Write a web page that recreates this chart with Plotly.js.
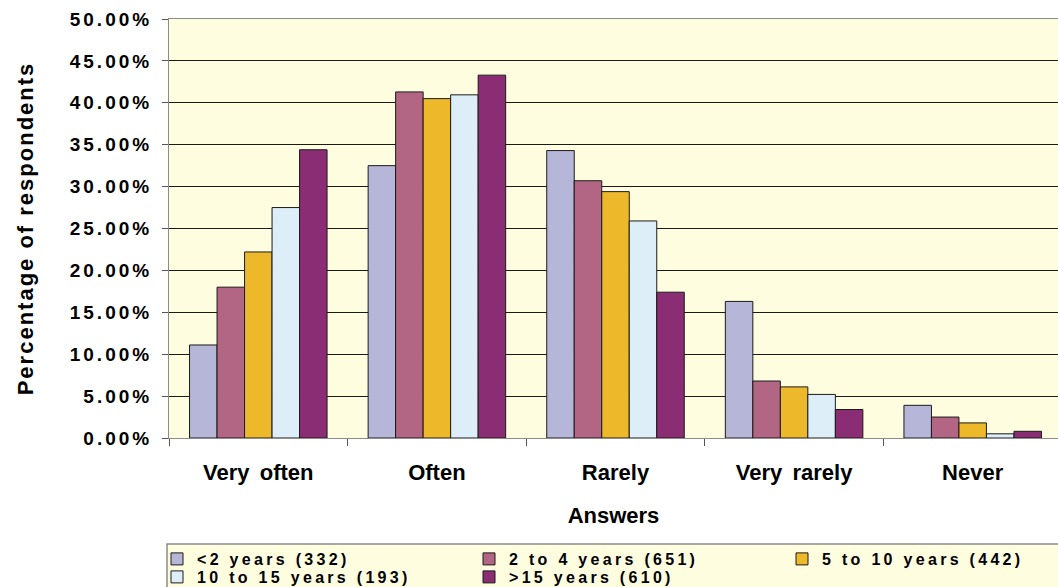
<!DOCTYPE html>
<html>
<head>
<meta charset="utf-8">
<script src="https://cdn.plot.ly/plotly-3.0.1.min.js"></script>
<style>
html, body { margin: 0; padding: 0; background: #fff; }
#chart { width: 1058px; height: 587px; }
.ytick text { letter-spacing: 3px; }
.g-ytitle text { letter-spacing: 2px; }
.xtick text { word-spacing: 4px; }
.legendtext, .legend2text, .legend3text, .legend4text, .legend5text { letter-spacing: 3.3px; }
</style>
</head>
<body>
<div id="chart"></div>
<script>
const categories = ["Very often", "Often", "Rarely", "Very rarely", "Never"];
const seriesNames = ["<2 years (332)", "2 to 4 years (651)", "5 to 10 years (442)", "10 to 15 years (193)", ">15 years (610)"];
const lessThan2 = [11.1, 32.5, 34.3, 16.3, 3.9];
const from2to4 = [18.0, 41.3, 30.7, 6.8, 2.5];
const from5to10 = [22.2, 40.5, 29.4, 6.1, 1.8];
const from10to15 = [27.5, 40.95, 25.9, 5.2, 0.5];
const over15 = [34.4, 43.3, 17.4, 3.4, 0.8];
const seriesValues = [lessThan2, from2to4, from5to10, from10to15, over15];
const colors = ["#B6B6D8", "#B36683", "#EDB92A", "#DDEEF8", "#8B2D74"];
const legendIds = ["legend", "legend2", "legend3", "legend4", "legend5"];

const FONT = "Arial, 'Liberation Sans', sans-serif";

const traces = seriesValues.map((vals, i) => ({
  type: "bar",
  name: seriesNames[i],
  x: categories,
  y: vals,
  legend: legendIds[i],
  marker: { color: colors[i], line: { color: "#1a1a1a", width: 1 } },
  hoverinfo: "x+y+name"
}));

// plot area in px: left 169, right 1058, top 19, bottom 438
const W = 1058, H = 587, L = 169, T = 19, B = 149;
const pw = W - L, ph = H - T - B;
const px2x = p => (p - L) / pw;
const py2y = p => (H - B - p) / ph;

function legendAt(xpx, ypx) {
  return {
    x: px2x(xpx), y: py2y(ypx), xanchor: "left", yanchor: "middle",
    orientation: "v", bgcolor: "rgba(0,0,0,0)", borderwidth: 0,
    font: { family: FONT, size: 16, color: "#000", weight: "bold" },
    itemclick: false, itemdoubleclick: false
  };
}

const layout = {
  width: W, height: H,
  margin: { l: L, r: 0, t: T, b: B, pad: 0, autoexpand: false },
  paper_bgcolor: "#ffffff",
  plot_bgcolor: "#FFFDE0",
  barmode: "group",
  bargap: 0.23,
  bargroupgap: 0,
  font: { family: FONT, color: "#000" },
  showlegend: true,
  legend: legendAt(157, 559),
  legend2: legendAt(469, 559),
  legend3: legendAt(782, 559),
  legend4: legendAt(157, 577),
  legend5: legendAt(469, 577),
  xaxis: {
    type: "category",
    range: [-0.5, -0.5 + pw / 178.6],
    automargin: false,
    showline: true, linecolor: "#8c8c8c", linewidth: 1, mirror: true,
    ticks: "outside", tickson: "boundaries", ticklen: 7, tickcolor: "#555",
    tickfont: { family: FONT, size: 22, weight: "bold", color: "#000" },
    ticklabelstandoff: 15,
    showgrid: false,
    title: { text: "Answers", font: { family: FONT, size: 22, weight: "bold", color: "#000" }, standoff: 23 }
  },
  yaxis: {
    range: [0, 50],
    dtick: 5,
    tickformat: ".2f",
    ticksuffix: "%",
    automargin: false,
    showline: true, linecolor: "#8c8c8c", linewidth: 1,
    ticks: "outside", ticklen: 6, tickcolor: "#555",
    tickfont: { family: FONT, size: 19, weight: "bold", color: "#000" },
    ticklabelstandoff: 6,
    showgrid: true, gridcolor: "#1a1a1a", gridwidth: 1,
    zeroline: false,
    title: { text: "Percentage of respondents", font: { family: FONT, size: 22, weight: "bold", color: "#000" }, standoff: 30 }
  },
  shapes: [{
    type: "rect", xref: "paper", yref: "paper", layer: "below",
    x0: px2x(167), x1: px2x(1070), y0: py2y(544), y1: py2y(600),
    fillcolor: "#FFFDE0", line: { color: "#8c8c8c", width: 1.5 }
  }]
};

Plotly.newPlot("chart", traces, layout, { displayModeBar: false, responsive: false });
</script>
</body>
</html>
